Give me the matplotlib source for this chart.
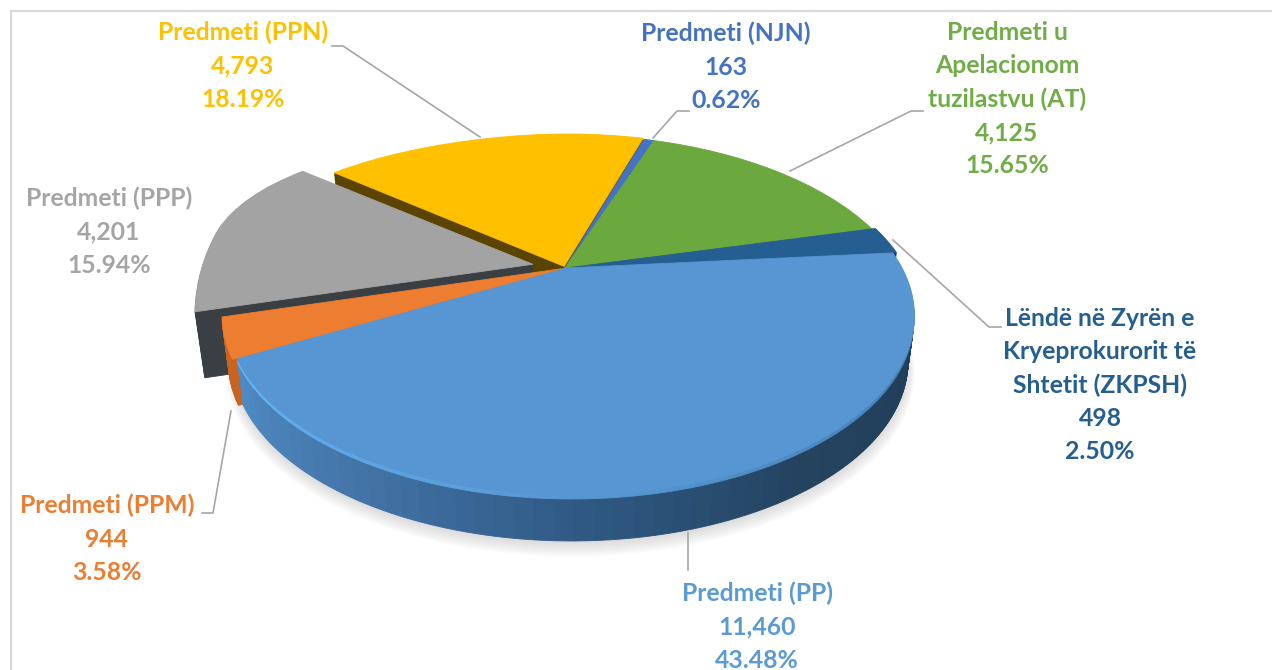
import numpy as np
import matplotlib
matplotlib.use("Agg")
import matplotlib.pyplot as plt
import matplotlib.transforms as mtransforms
from matplotlib.colors import to_rgb

# slices clockwise from the top
names = ["Predmeti (NJN)", "Predmeti u\nApelacionom\ntuzilastvu (AT)",
         "Lëndë në Zyrën e\nKryeprokurorit të\nShtetit (ZKPSH)", "Predmeti (PP)",
         "Predmeti (PPM)", "Predmeti (PPP)", "Predmeti (PPN)"]
values = ["163", "4,125", "498", "11,460", "944", "4,201", "4,793"]
percents = [0.62, 15.65, 2.50, 43.48, 3.58, 15.94, 18.19]

top_colors = ["#4472C4", "#6BA93F", "#255E91", "#5796D2", "#ED7D31", "#A3A3A3", "#FFC000"]
wall_colors = ["#2a4578", "#3f6626", "#123a5e", "#2a5078", "#c8641f", "#3a3f43", "#5a4400"]
text_colors = ["#4472C4", "#70AD47", "#255E91", "#5B9BD5", "#ED7D31", "#A5A5A5", "#FFC000"]
explode = [0.0, 0.0, 0.012, 0.0, 0.012, 0.1, 0.01]

label_x = [726, 1007, 1100, 757, 107, 109, 243]
label_y = [22, 21, 307, 582, 494, 187, 21]
leaders = [[(653, 138), (677, 111), (689, 111)],
           [(790, 171), (911, 111), (923, 111)],
           [(893, 240), (989, 327), (1001, 327)],
           [(688, 533), (688, 570)],
           [(231, 411), (213, 513), (202, 513)],
           [],
           [(480, 137), (343, 46), (332, 46)]]

START = 72.8
DEPTH = 46
GRAY_DEPTH = 66
PP = 3
GRAY = 5
N_SUB = 60


class Tilt(mtransforms.Transform):
    # unit disc to pixels, far side smaller, lower layers a bit narrower
    input_dims = 2
    output_dims = 2
    is_separable = False

    def __init__(self, dz=0.0):
        super().__init__()
        self.dz = dz

    def transform_non_affine(self, values):
        values = np.asarray(values)
        x, y = values[:, 0], values[:, 1]
        w = 1 + 0.261 * y - 0.015 * x
        rx = 332 * (1 - 0.0004 * self.dz)
        # upper left of the reference pie bulges out
        bulge = 1 + 0.2 * np.clip(-x, 0, None) * np.clip(y, 0, None)
        return np.column_stack([565 + rx * x * bulge / w, 268 - 167.7 * y / w + self.dz])


def mix(stops, f):
    rgb = np.array([to_rgb(c) for c in stops])
    pos = np.linspace(0, 1, len(stops))
    return tuple(np.interp(f, pos, rgb[:, i]) for i in range(3))


def draw_layer(dz, colors, shares, expl, radius=1.0, alpha=None):
    wedges, _ = ax.pie(shares, colors=colors, explode=expl, startangle=START,
                       counterclock=False, radius=radius, normalize=True)
    tr = Tilt(dz) + ax.transData
    for w in wedges:
        w.set_transform(tr)
        w.set_clip_on(False)
        w.set_edgecolor(w.get_facecolor())
        w.set_linewidth(0.6)
        if alpha is not None:
            w.set_alpha(alpha)
            w.set_linewidth(0)


# PP is cut in thin parts so its wall can be shaded
sub_shares = percents[:PP] + [percents[PP] / N_SUB] * N_SUB + percents[PP + 1:]
sub_explode = explode[:PP] + [0.0] * N_SUB + explode[PP + 1:]
fracs = (np.arange(N_SUB) + 0.5) / N_SUB
wall_grad = [mix(["#1f3d58", "#213f5a", "#24435f", "#305a85", "#4475a9", "#4f8cc6"], f) for f in fracs]
bevel_grad = [mix(["#3a6f9f", "#4a86bf", "#5a9cd8", "#66b4f5"], f) for f in fracs]

fig = plt.figure(figsize=(12.72, 6.70), dpi=100, facecolor="white")
ax = fig.add_axes([0, 0, 1, 1])

# soft shadow under the pie
for i in range(8):
    draw_layer(DEPTH + 2 + i, ["#808080"], [1], [0], radius=1.0 + 0.003 * i, alpha=0.035)

# the PPP wall runs deeper than the others
only_gray = ["none"] * len(percents)
only_gray[GRAY] = wall_colors[GRAY]
for dz in np.arange(GRAY_DEPTH, DEPTH, -1.0):
    draw_layer(dz, only_gray, percents, explode)

# walls, bottom up
for dz in np.arange(DEPTH, 4, -1.0):
    draw_layer(dz, wall_colors[:PP] + wall_grad + wall_colors[PP + 1:], sub_shares, sub_explode)
for dz in [4, 3, 2, 1]:
    draw_layer(dz, wall_colors[:PP] + bevel_grad + wall_colors[PP + 1:], sub_shares, sub_explode)

# top face
draw_layer(0, top_colors, percents, explode)

ax.set_aspect("auto")
ax.set_xlim(0, 1272)
ax.set_ylim(670, 0)
ax.axis("off")

# chart border
ax.plot([11, 11, 1272], [670, 11, 11], color="#d9d9d9", lw=1.6, clip_on=False, zorder=0)

for pts in leaders:
    if pts:
        ax.plot([p[0] for p in pts], [p[1] for p in pts], color="#a6a6a6", lw=1.2, zorder=5)

for i in range(len(names)):
    txt = names[i] + "\n" + values[i] + "\n" + f"{percents[i]:.2f}%"
    ax.text(label_x[i], label_y[i], txt, color=text_colors[i], ha="center", va="top", ma="center",
            family="Lato", weight="bold", fontsize=17.8, linespacing=1.53, zorder=6)

fig.savefig("out.png", dpi=100)
